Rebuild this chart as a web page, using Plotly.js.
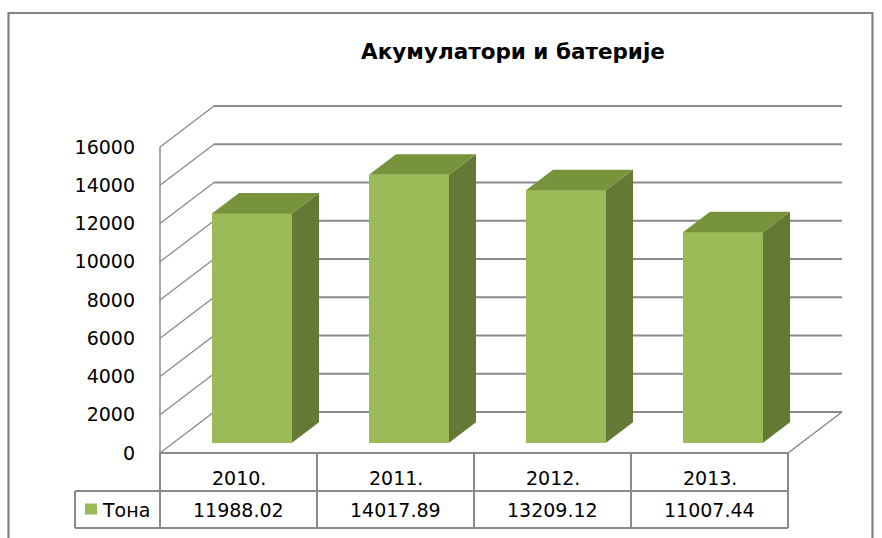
<!DOCTYPE html>
<html><head><meta charset="utf-8">
<script src="https://cdn.plot.ly/plotly-3.0.1.min.js"></script>
<style>html,body{margin:0;padding:0;background:#fff}#chart{width:882px;height:538px}</style>
</head><body><div id="chart"></div>
<script>
// ---- data ----
const categories = ['2010.', '2011.', '2012.', '2013.'];
const values = [11988.02, 14017.89, 13209.12, 11007.44];
const seriesName = 'Тона';
const chartTitle = 'Акумулатори и батерије';
const yTickVals = [0, 2000, 4000, 6000, 8000, 10000, 12000, 14000, 16000];
const yTickText = ['0', '2000', '4000', '6000', '8000', '10000', '12000', '14000', '16000'];

// ---- geometry (pixels) ----
const FIG_W = 882, FIG_H = 538;
const PL = 150, PR = 848, PT = 98, PB = 453;
const PW = PR - PL, PH = PB - PT;
const AXIS_PX = 160;          // front-left axis position
const CAT_PX = 157;           // px per category
const Y_PX = 306 / 16000;     // px per value unit
const DEPTH_DX = 54, DEPTH_DY = 41;
const BAR_PX = 80;

const xr0 = -0.5 - (AXIS_PX - PL) / CAT_PX;
const xRange = [xr0, xr0 + PW / CAT_PX];
const yRange = [0, PH / Y_PX];
const dxu = DEPTH_DX / CAT_PX, dyu = DEPTH_DY / Y_PX;
const barW = BAR_PX / CAT_PX;
const n = categories.length;
const xLeft = -0.5, xRight = n - 0.5;
const yMax = yTickVals[yTickVals.length - 1];

const pxX = px => (px - PL) / PW;
const pxY = py => (PB - py) / PH;
const dX = xd => (xd - xRange[0]) / (xRange[1] - xRange[0]);

const GRID = '#8a8a8a';
const FRONT = '#9BBB59', TOP = '#77933C', SIDE = '#647A34';
const FONT = 'DejaVu Sans';

const shapes = [];
// back wall gridlines
yTickVals.forEach(v => {
  shapes.push({type: 'line', layer: 'below', xref: 'x', yref: 'y',
    x0: xLeft + dxu, x1: xRight + dxu, y0: v + dyu, y1: v + dyu,
    line: {color: GRID, width: 2}});
  // side wall diagonals
  shapes.push({type: 'line', layer: 'below', xref: 'x', yref: 'y',
    x0: xLeft, x1: xLeft + dxu, y0: v, y1: v + dyu,
    line: {color: GRID, width: 1.3}});
});
// front vertical axis line
shapes.push({type: 'line', layer: 'below', xref: 'x', yref: 'y',
  x0: xLeft, x1: xLeft, y0: 0, y1: yMax, line: {color: GRID, width: 1.5}});
// floor right edge
shapes.push({type: 'line', layer: 'below', xref: 'x', yref: 'y',
  x0: xRight, x1: xRight + dxu, y0: 0, y1: dyu, line: {color: GRID, width: 1.5}});

// data table
const TBL = '#8a8a8a';
const rowMid = pxY(491), rowBot = pxY(528), legLeft = pxX(75);
shapes.push({type: 'line', xref: 'paper', yref: 'paper', x0: dX(xLeft), x1: dX(xRight), y0: 0, y1: 0, line: {color: TBL, width: 2}});
shapes.push({type: 'line', xref: 'paper', yref: 'paper', x0: legLeft, x1: dX(xRight), y0: rowMid, y1: rowMid, line: {color: TBL, width: 2}});
shapes.push({type: 'line', xref: 'paper', yref: 'paper', x0: legLeft, x1: dX(xRight), y0: rowBot, y1: rowBot, line: {color: TBL, width: 2}});
for (let k = 0; k <= n; k++) {
  shapes.push({type: 'line', xref: 'paper', yref: 'paper', x0: dX(xLeft + k), x1: dX(xLeft + k), y0: 0, y1: rowBot, line: {color: TBL, width: 2}});
}
shapes.push({type: 'line', xref: 'paper', yref: 'paper', x0: legLeft, x1: legLeft, y0: rowMid, y1: rowBot, line: {color: TBL, width: 2}});
// legend key
shapes.push({type: 'rect', xref: 'paper', yref: 'paper', x0: pxX(85), x1: pxX(97), y0: pxY(503.5), y1: pxY(514.5), fillcolor: FRONT, line: {width: 0}});
// outer chart border
shapes.push({type: 'rect', xref: 'paper', yref: 'paper', x0: pxX(8.5), x1: pxX(872.5), y0: pxY(548), y1: pxY(13), line: {color: '#848484', width: 2.2}});

const annotations = [];
categories.forEach((c, i) => {
  annotations.push({x: i, xref: 'x', y: pxY(478), yref: 'paper', text: c, showarrow: false,
    xanchor: 'center', yanchor: 'middle', font: {family: FONT, size: 19, color: '#000'}});
  annotations.push({x: i, xref: 'x', y: pxY(509.5), yref: 'paper', text: values[i].toFixed(2), showarrow: false,
    xanchor: 'center', yanchor: 'middle', font: {family: FONT, size: 19, color: '#000'}});
});
annotations.push({x: pxX(100), xref: 'paper', y: pxY(509.5), yref: 'paper', text: seriesName, showarrow: false,
  xanchor: 'left', yanchor: 'middle', font: {family: FONT, size: 19, color: '#000'}});

// ---- traces ----
const traces = [];
const base = 0.25 * dyu, xoff = 0.25 * dxu, dxh = 0.5 * dxu, dyh = 0.5 * dyu;
traces.push({type: 'bar', x: categories.map((c, i) => i + xoff), y: values, base: values.map(() => base),
  width: barW, marker: {color: FRONT, line: {width: 0}}, hoverinfo: 'skip', showlegend: false});
values.forEach((v, i) => {
  const xl = i + xoff - barW / 2, xr = i + xoff + barW / 2;
  traces.push({type: 'scatter', mode: 'lines', fill: 'toself', fillcolor: SIDE, line: {width: 0, color: SIDE},
    x: [xr, xr + dxh, xr + dxh, xr, xr], y: [base + v, base + v + dyh, base + dyh, base, base + v],
    hoverinfo: 'skip', showlegend: false});
  traces.push({type: 'scatter', mode: 'lines', fill: 'toself', fillcolor: TOP, line: {width: 0, color: TOP},
    x: [xl, xr, xr + dxh, xl + dxh, xl], y: [base + v, base + v, base + v + dyh, base + v + dyh, base + v],
    hoverinfo: 'skip', showlegend: false});
});

const layout = {
  width: FIG_W, height: FIG_H,
  margin: {l: PL, r: FIG_W - PR, t: PT, b: FIG_H - PB, pad: 0},
  paper_bgcolor: '#fff', plot_bgcolor: 'rgba(0,0,0,0)',
  showlegend: false,
  title: {text: chartTitle, font: {family: FONT, size: 21.5, color: '#000', weight: 'bold'},
    x: 513 / FIG_W, xref: 'container', xanchor: 'center', y: 1 - 51 / FIG_H, yref: 'container', yanchor: 'middle'},
  xaxis: {range: xRange, showgrid: false, zeroline: false, showline: false, showticklabels: false, ticks: '', fixedrange: true},
  yaxis: {range: yRange, showgrid: false, zeroline: false, showline: false, ticks: '',
    tickmode: 'array', tickvals: yTickVals, ticktext: yTickText, ticklabelstandoff: 14,
    tickfont: {family: FONT, size: 19, color: '#000'}, fixedrange: true},
  shapes: shapes, annotations: annotations, bargap: 0
};
Plotly.newPlot('chart', traces, layout, {displayModeBar: false, staticPlot: true});
</script></body></html>
